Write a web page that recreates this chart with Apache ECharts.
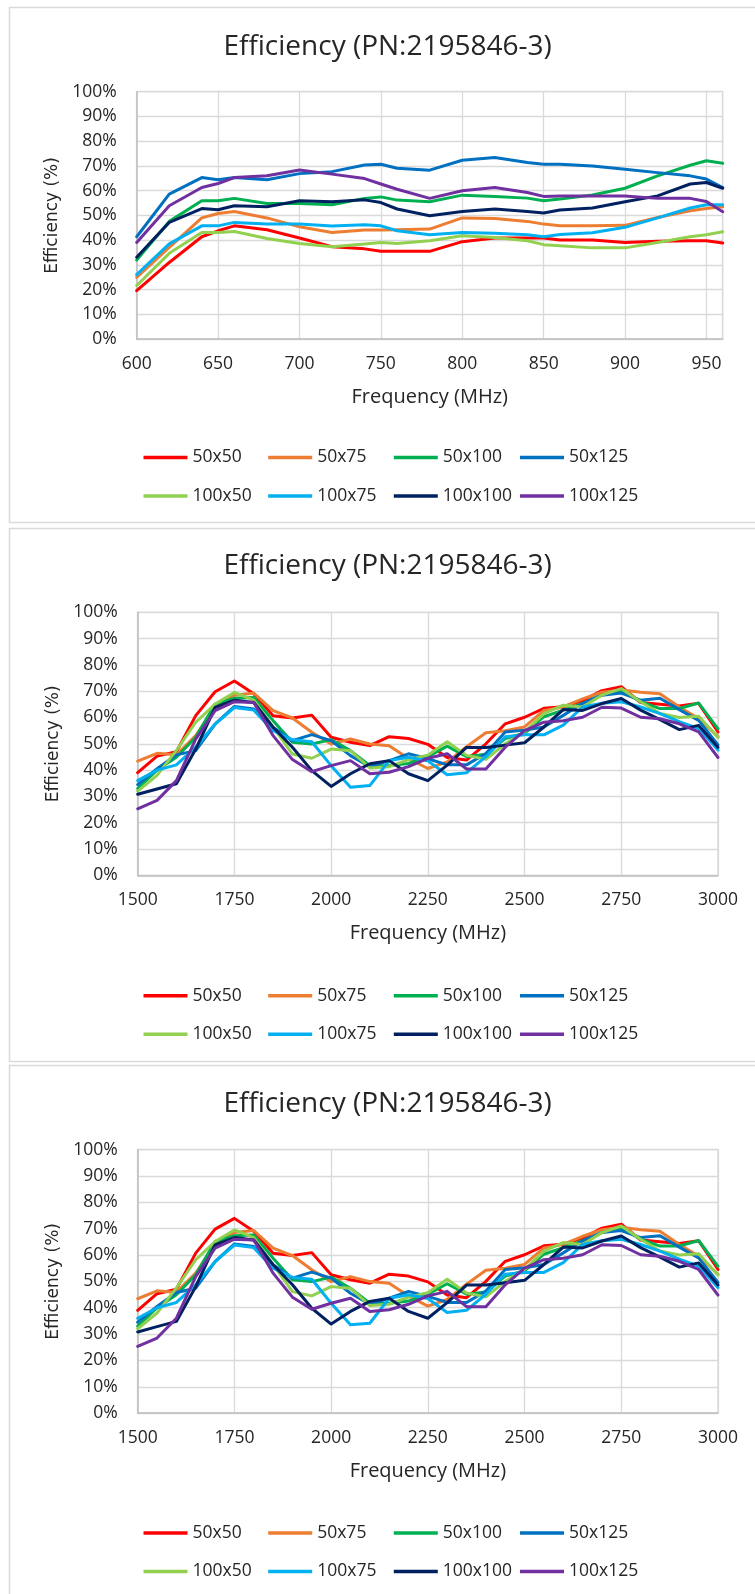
<!DOCTYPE html>
<html><head><meta charset="utf-8">
<script src="https://cdn.jsdelivr.net/npm/echarts@6/dist/echarts.min.js"></script>
<style>html,body{margin:0;padding:0;background:#fff}#c{width:755px;height:1594px}</style>
</head><body><div id="c"></div>
<script>
const chartTitle = 'Efficiency (PN:2195846-3)';
const xName = 'Frequency (MHz)';
const yName = 'Efficiency (%)';
const seriesNames = ['50x50','50x75','50x100','50x125','100x50','100x75','100x100','100x125'];
const seriesColors = ['#FF0000','#ED7D31','#00B050','#0070C0','#92D050','#00B0F0','#002060','#7030A0'];

// Chart 1 (600-960 MHz)
const freqLow = [600,620,640,650,660,680,700,720,740,750,760,780,800,820,840,850,860,880,900,920,940,950,960];
const low_50x50  = [19.6,31.0,41.4,43.8,45.8,44.2,40.9,37.4,36.5,35.5,35.5,35.5,39.4,40.9,40.9,40.9,40.1,40.1,39.1,39.6,39.8,39.8,38.9];
const low_50x75  = [25.0,37.1,49.0,50.8,51.6,49.0,45.4,43.1,44.1,44.1,44.2,44.5,49.0,48.8,47.6,46.5,45.8,45.8,46.0,49.2,51.9,52.8,53.5];
const low_50x100 = [32.0,47.6,55.9,55.9,56.9,54.8,54.8,54.3,56.9,57.5,56.2,55.5,58.2,57.7,57.0,55.9,56.6,58.3,61.0,66.0,70.3,72.1,71.1];
const low_50x125 = [41.4,58.6,65.3,64.4,65.3,64.4,66.9,67.7,70.4,70.7,69.1,68.3,72.3,73.4,71.4,70.7,70.7,70.0,68.7,67.3,66.0,64.7,61.3];
const low_100x50 = [21.7,34.7,43.1,43.1,43.5,40.7,38.7,37.4,38.5,39.1,38.7,39.8,41.8,41.1,39.8,38.2,37.8,36.9,36.9,39.1,41.4,42.2,43.4];
const low_100x75 = [26.1,38.5,45.8,45.8,47.2,46.5,46.5,45.7,46.2,45.8,43.8,42.2,43.1,42.8,42.2,41.4,42.3,43.0,45.2,49.0,53.0,54.3,54.3];
const low_100x100= [33.1,47.2,52.8,52.3,53.9,53.5,55.9,55.5,56.3,55.2,52.6,49.9,51.6,52.6,51.6,51.0,52.2,53.0,55.5,57.9,62.7,63.3,61.0];
const low_100x125= [39.1,53.9,61.3,62.9,65.3,66.0,68.4,66.7,64.9,62.7,60.6,56.9,60.0,61.3,59.3,57.7,57.9,57.9,57.9,56.9,56.9,55.6,51.5];

// Charts 2 and 3 (1500-3000 MHz)
const freqHigh = [1500,1550,1600,1650,1700,1750,1800,1850,1900,1950,2000,2050,2100,2150,2200,2250,2300,2350,2400,2450,2500,2550,2600,2650,2700,2750,2800,2850,2900,2950,3000];
const high_50x50  = [39.0,45.3,47.0,60.7,69.8,73.9,69.0,60.7,59.8,60.9,52.5,50.6,49.3,52.7,52.0,49.8,44.8,43.8,50.0,57.6,60.1,63.5,64.1,66.4,70.2,71.7,65.7,65.0,64.4,65.4,54.5];
const high_50x75  = [43.4,46.4,45.8,53.1,64.0,68.5,69.3,62.6,59.8,54.4,49.9,51.8,49.9,49.3,44.4,40.6,43.1,48.9,54.2,55.0,56.4,62.7,64.0,67.1,69.6,70.5,69.6,69.0,64.0,59.6,52.7];
const high_50x100 = [33.0,40.0,44.9,52.5,65.1,67.3,67.6,58.8,50.6,49.9,51.6,47.4,41.7,41.7,42.5,45.1,49.1,45.1,46.0,52.0,54.0,60.3,62.8,65.4,68.5,70.4,66.0,63.4,63.4,65.5,55.7];
const high_50x125 = [34.5,40.5,45.8,47.4,57.5,64.2,63.2,56.3,51.2,53.5,51.2,45.5,41.3,43.6,46.2,44.3,42.0,42.0,46.3,54.5,55.2,56.4,60.8,65.4,68.5,69.3,66.6,67.3,63.0,58.9,49.6];
const high_100x50 = [32.0,38.0,47.5,58.2,65.1,69.5,66.6,56.3,46.1,44.5,48.0,47.4,40.8,41.3,44.0,45.7,50.8,45.6,44.1,50.0,54.5,61.5,64.7,64.0,68.5,71.0,66.0,61.5,60.0,60.5,52.4];
const high_100x75 = [36.0,40.0,42.0,48.7,57.5,63.8,62.8,55.0,51.5,50.8,41.7,33.5,34.1,43.6,44.9,43.5,38.2,39.0,45.1,52.7,53.4,53.4,57.1,64.0,65.4,66.0,64.0,61.5,58.4,55.8,47.6];
const high_100x100= [30.8,32.8,34.8,48.0,63.8,66.6,65.7,56.3,48.7,39.8,33.8,38.6,42.4,43.6,38.6,36.0,41.9,48.6,48.6,49.5,50.4,56.4,63.0,62.7,65.3,67.2,62.8,59.2,55.4,57.0,48.6];
const high_100x125= [25.3,28.5,36.0,51.8,62.6,66.0,65.7,53.1,44.0,39.4,41.7,43.6,38.6,39.2,41.3,44.5,46.2,40.4,40.4,48.7,55.0,58.2,58.8,60.1,63.9,63.6,60.1,59.5,57.6,54.5,44.8];

const lowSets  = [low_50x50,low_50x75,low_50x100,low_50x125,low_100x50,low_100x75,low_100x100,low_100x125];
const highSets = [high_50x50,high_50x75,high_50x100,high_50x125,high_100x50,high_100x75,high_100x100,high_100x125];

const FONT = "'Open Sans', sans-serif";
const TXT = '#262626';

const panels = [
  {panelTop:7.5, panelH:515, titleY:47.5, grid:{left:136.7, top:91.7, width:586, height:247.5},
   freq:freqLow, sets:lowSets, xmin:600, xmax:960, xint:50, hideMax:true, legendY:[457.5,496]},
  {panelTop:528.5, panelH:533, titleY:566.5, grid:{left:137.7, top:612.3, width:580.3, height:263},
   freq:freqHigh, sets:highSets, xmin:1500, xmax:3000, xint:250, hideMax:false, legendY:[995.7,1034.2]},
  {panelTop:1065.5, panelH:600, titleY:1103.8, grid:{left:137.7, top:1149.6, width:580.3, height:263.5},
   freq:freqHigh, sets:highSets, xmin:1500, xmax:3000, xint:250, hideMax:false, legendY:[1533,1571.5]}
];
const legendX = [143.5, 268.2, 393.8, 520];

const option = {animation:false, backgroundColor:'#fff', grid:[], xAxis:[], yAxis:[], series:[], legend:[], graphic:[]};

panels.forEach((p, i) => {
  option.graphic.push({type:'rect', silent:true, z:-10,
    shape:{x:9.5, y:p.panelTop, width:800, height:p.panelH},
    style:{fill:'none', stroke:'#d9d9d9', lineWidth:1.5}});
  option.graphic.push({type:'text', silent:true,
    x:387.6, y:p.titleY,
    style:{text:chartTitle, font:"28px 'Open Sans', sans-serif", fill:TXT, align:'center', verticalAlign:'middle', textAlign:'center', textVerticalAlign:'middle'}});
  option.grid.push(Object.assign({show:true, borderColor:'#d9d9d9', borderWidth:1.3, backgroundColor:'transparent', containLabel:false}, p.grid));
  option.xAxis.push({type:'value', gridIndex:i, min:p.xmin, max:p.xmax, interval:p.xint,
    name:xName, nameLocation:'middle', nameGap:48,
    nameTextStyle:{fontFamily:FONT, fontSize:20, color:TXT},
    axisLine:{show:true, lineStyle:{color:'#bfbfbf', width:1.5}},
    axisTick:{show:false},
    axisLabel:{fontFamily:FONT, fontSize:17.5, color:TXT, margin:16, showMaxLabel:!p.hideMax, showMinLabel:true,
      formatter: v => String(v)},
    splitLine:{show:true, lineStyle:{color:'#d9d9d9', width:1.3}}});
  option.yAxis.push({type:'value', gridIndex:i, min:0, max:100, interval:10,
    name:yName, nameLocation:'middle', nameGap:74,
    nameTextStyle:{fontFamily:"'DejaVu Sans', sans-serif", fontSize:17, color:TXT},
    axisLine:{show:true, lineStyle:{color:'#bfbfbf', width:1.5}},
    axisTick:{show:false},
    axisLabel:{fontFamily:FONT, fontSize:17.5, color:TXT, margin:20, formatter:'{value}%'},
    splitLine:{show:true, lineStyle:{color:'#d9d9d9', width:1.3}}});
  seriesNames.forEach((nm, k) => {
    option.series.push({type:'line', name:nm, xAxisIndex:i, yAxisIndex:i,
      data:p.freq.map((f, j) => [f, p.sets[k][j]]),
      symbol:'none', smooth:false,
      lineStyle:{width:3, color:seriesColors[k], cap:'round', join:'round'},
      itemStyle:{color:seriesColors[k]}});
    const row = Math.floor(k / 4), col = k % 4;
    option.legend.push({data:[nm], left:legendX[col], top:p.legendY[row] - 10,
      orient:'horizontal', padding:0, itemGap:0, itemWidth:44, itemHeight:3.5, icon:'rect',
      selectedMode:false,
      textStyle:{fontFamily:FONT, fontSize:17.5, color:TXT, lineHeight:20, padding:0}});
  });
});

const chart = echarts.init(document.getElementById('c'), null, {renderer:'canvas'});
chart.setOption(option);
</script>
</body></html>
